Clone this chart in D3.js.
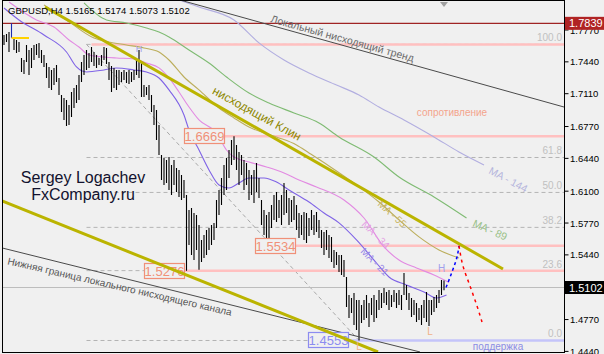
<!DOCTYPE html>
<html>
<head>
<meta charset="utf-8">
<script src="https://cdn.jsdelivr.net/npm/d3@7"></script>
<style>
body { margin: 0; background: #f0f0f0; }
svg { display: block; font-family: "Liberation Sans", Arial, sans-serif; }
</style>
</head>
<body>
<svg width="604" height="354"></svg>
<script>
// GBPUSD H4 bars (high / low), one per bar
var highs = [1.7718,1.7729,1.7749,1.7839,1.7687,1.7667,1.7646,1.7480,1.7459,1.7615,
  1.7563,1.7584,1.7615,1.7625,1.7636,1.7563,1.7511,1.7428,1.7387,1.7356,
  1.7377,1.7408,1.7273,1.7097,1.7066,1.7045,1.6993,1.7128,1.7169,1.7200,
  1.7304,1.7439,1.7511,1.7563,1.7532,1.7594,1.7542,1.7511,1.7480,1.7511,
  1.7594,1.7584,1.7439,1.7397,1.7377,1.7356,1.7356,1.7335,1.7356,1.7335,
  1.7356,1.7335,1.7356,1.7459,1.7563,1.7428,1.7200,1.7179,1.7200,1.7097,
  1.6993,1.6941,1.6786,1.6475,1.6444,1.6423,1.6454,1.6372,1.6423,1.6341,
  1.6320,1.6268,1.6216,1.6061,1.5905,1.5926,1.5874,1.5853,1.5750,1.5595,
  1.5646,1.5698,1.5719,1.5750,1.5771,1.6009,1.6113,1.6237,1.6372,1.6444,
  1.6527,1.6631,1.6669,1.6579,1.6506,1.6475,1.6423,1.6392,1.6320,1.6268,
  1.6320,1.6392,1.6237,1.6009,1.5905,1.5853,1.5885,1.5957,1.6061,1.6092,
  1.6009,1.6061,1.6185,1.6113,1.6030,1.6009,1.6050,1.5957,1.5874,1.5853,
  1.5885,1.5874,1.5822,1.5905,1.5853,1.5885,1.5802,1.5698,1.5678,1.5698,
  1.5646,1.5626,1.5491,1.5470,1.5439,1.5439,1.5387,1.5211,1.5025,1.4994,
  1.5046,1.4973,1.4973,1.4921,1.4973,1.5025,1.4942,1.4994,1.5025,1.4973,
  1.5077,1.5046,1.5097,1.5056,1.5077,1.5025,1.5077,1.5046,1.5077,1.5025,
  1.5253,1.5128,1.5046,1.4994,1.4973,1.4942,1.4890,1.4921,1.4973,1.5056,
  1.4973,1.4973,1.5004,1.5025,1.5077,1.5180,1.5174];
var lows = [1.7615,1.7646,1.7542,1.7687,1.7563,1.7532,1.7542,1.7335,1.7314,1.7439,
  1.7304,1.7377,1.7459,1.7511,1.7480,1.7428,1.7387,1.7273,1.7169,1.7149,
  1.7200,1.7231,1.7097,1.6921,1.6838,1.6776,1.6786,1.6869,1.6962,1.7014,
  1.7045,1.7231,1.7304,1.7356,1.7377,1.7439,1.7397,1.7377,1.7408,1.7397,
  1.7459,1.7418,1.7252,1.7128,1.7169,1.7149,1.7200,1.7231,1.7252,1.7221,
  1.7211,1.7231,1.7252,1.7304,1.7273,1.7076,1.7076,1.7097,1.7045,1.6921,
  1.6786,1.6631,1.6475,1.6216,1.6165,1.6185,1.6113,1.6061,1.6165,1.6092,
  1.6040,1.6009,1.6030,1.5276,1.5543,1.5439,1.5387,1.5491,1.5285,1.5367,
  1.5408,1.5439,1.5491,1.5543,1.5595,1.5719,1.5853,1.5957,1.6061,1.6113,
  1.6237,1.6372,1.6423,1.6320,1.6165,1.6268,1.6113,1.6165,1.6009,1.6061,
  1.5978,1.6092,1.6030,1.5750,1.5646,1.5595,1.5534,1.5719,1.5802,1.5781,
  1.5822,1.5750,1.5853,1.5874,1.5750,1.5781,1.5802,1.5698,1.5615,1.5646,
  1.5595,1.5564,1.5636,1.5698,1.5646,1.5678,1.5615,1.5512,1.5439,1.5491,
  1.5408,1.5367,1.5304,1.5335,1.5263,1.5232,1.5211,1.4901,1.4787,1.4838,
  1.4714,1.4662,1.4553,1.4735,1.4766,1.4787,1.4693,1.4817,1.4745,1.4787,
  1.4869,1.4890,1.4942,1.4921,1.4869,1.4901,1.4952,1.4890,1.4921,1.4869,
  1.5025,1.4973,1.4869,1.4797,1.4817,1.4745,1.4766,1.4714,1.4787,1.4745,
  1.4704,1.4817,1.4849,1.4890,1.4942,1.5025,1.5073];

// moving averages, [bar, price]
var ma21 = [[0,1.7998],[6,1.7874],[16,1.7718],[25,1.7542],[29,1.7387],[33,1.7335],[40,1.7356],[45,1.7377],[52,1.7356],[57,1.7335],[62,1.7273],[66,1.7149],[72,1.6889],[74,1.6734],[78,1.6527],[82,1.6320],[86,1.6165],[90,1.6133],[94,1.6185],[98,1.6237],[104,1.6237],[109,1.6195],[114,1.6113],[122,1.5988],[128,1.5874],[134,1.5771],[141,1.5595],[149,1.5356],[154,1.5211],[161,1.5128],[168,1.5056],[173,1.4994],[177,1.5025]];
var ma34 = [[2,1.8060],[13,1.7874],[20,1.7801],[26,1.7667],[30,1.7594],[34,1.7511],[40,1.7490],[45,1.7480],[52,1.7470],[57,1.7428],[62,1.7377],[66,1.7273],[70,1.7128],[74,1.6972],[78,1.6838],[85,1.6703],[89,1.6527],[92,1.6454],[98,1.6403],[105,1.6351],[112,1.6289],[118,1.6216],[125,1.6144],[136,1.6009],[144,1.5822],[152,1.5522],[158,1.5387],[165,1.5304],[172,1.5232],[178,1.5155]];
var ma55 = [[16,1.8029],[25,1.7874],[36,1.7687],[42,1.7646],[49,1.7615],[56,1.7584],[62,1.7542],[66,1.7459],[72,1.7283],[78,1.7149],[86,1.6962],[92,1.6859],[98,1.6765],[109,1.6662],[117,1.6579],[122,1.6496],[130,1.6361],[141,1.6165],[150,1.5988],[158,1.5802],[166,1.5626],[174,1.5491],[182,1.5408]];
var ma89 = [[32,1.8050],[41,1.7874],[49,1.7843],[57,1.7791],[62,1.7749],[66,1.7698],[74,1.7563],[82,1.7428],[89,1.7283],[98,1.7117],[106,1.7014],[116,1.6910],[126,1.6807],[134,1.6662],[148,1.6454],[158,1.6247],[172,1.6040],[185,1.5822]];
var ma144 = [[70,1.8081],[78,1.8008],[92,1.7874],[102,1.7636],[112,1.7459],[122,1.7325],[133,1.7200],[142,1.7097],[150,1.6972],[160,1.6838],[172,1.6662],[182,1.6506],[192,1.6372]];

// trend lines, [bar, price] end points
var wedgeUpper = [[16.4,1.8008],[199.6,1.5294]];
var wedgeLower = [[-0.8,1.5999],[149.6,1.4434]];
var localTrend = [[70.4,1.8081],[224,1.6972]];
var channelLow = [[-0.8,1.5512],[166.4,1.4434]];

// fibonacci
var fibLevels = [0, 23.6, 38.2, 50.0, 61.8, 100.0];
var fibPrices = [1.4553, 1.7621];
var fibBars = [142, 33];

// marked levels
var resistPrices = [1.6669, 1.5534, 1.5276];
var resistBoxBars = [72, 100.4, 56];
var supportPrice = 1.4553, supportBoxBar = 121.6;
var topLevel = 1.7621, topLevelBar = 35;
var maxPrice = 1.7839, lastPrice = 1.5102;

// forecast paths
var forecastUp = [[176.8,1.5102],[179.2,1.5263],[181.2,1.5418],[182,1.5534]];
var forecastDown = [[182,1.5534],[183.6,1.5325],[186.4,1.5118],[189.2,1.4911],[191.2,1.4745]];

var tickValues = [1.7770,1.7440,1.7110,1.6770,1.6440,1.6100,1.5770,1.5440,1.4770,1.4440];

var svg = d3.select("svg"),
    pLeft = 2.5, pRight = 564.5, pTop = 0.5, pBottom = 352.5;

var x = d3.scaleLinear().domain([0, 176]).range([4, 444]),
    y = d3.scaleLinear().domain([1.4440, 1.7770]).range([351.4, 30]);

svg.append("rect").attr("width", 604).attr("height", 354).attr("fill", "#f0f0f0");

svg.append("clipPath").attr("id", "plot")
  .append("rect").attr("x", pLeft).attr("y", pTop)
  .attr("width", pRight - pLeft).attr("height", pBottom - pTop);

var g = svg.append("g").attr("clip-path", "url(#plot)");

function seg(s) { return [[x(s[0][0]), y(s[0][1])], [x(s[1][0]), y(s[1][1])]]; }
function angle(s) { var p = seg(s); return Math.atan2(p[1][1] - p[0][1], p[1][0] - p[0][0]) * 180 / Math.PI; }
function lineY(s, bar) { var p = seg(s), t = (x(bar) - p[0][0]) / (p[1][0] - p[0][0]); return p[0][1] + t * (p[1][1] - p[0][1]); }

// fibonacci levels
var fibX0 = x(fibBars[1]);
fibLevels.forEach(function(l) {
  var p = fibPrices[0] + (fibPrices[1] - fibPrices[0]) * l / 100;
  g.append("line")
    .attr("x1", fibX0).attr("x2", pRight).attr("y1", y(p)).attr("y2", y(p))
    .style("stroke", "#b4b4b4").style("stroke-dasharray", "4,3");
  svg.append("text")
    .attr("x", 562).attr("y", y(p) - 3)
    .attr("text-anchor", "end")
    .style("font-size", "10px").style("fill", "#c0c0c0")
    .text(l.toFixed(1));
});
g.append("line")
  .attr("x1", x(fibBars[1])).attr("y1", y(fibPrices[1]))
  .attr("x2", x(fibBars[0])).attr("y2", y(fibPrices[0]))
  .style("stroke", "#a8a8a8").style("stroke-dasharray", "4,3");

// current price line
g.append("line")
  .attr("x1", pLeft).attr("x2", pRight).attr("y1", y(lastPrice)).attr("y2", y(lastPrice))
  .style("stroke", "#bdbdbd");

// resistance / support levels
g.append("line")
  .attr("x1", x(topLevelBar)).attr("x2", pRight).attr("y1", y(topLevel)).attr("y2", y(topLevel))
  .style("stroke", "#ffc0c0").style("stroke-width", 2.5);
resistPrices.forEach(function(p, i) {
  var bx = x(resistBoxBars[i]);
  g.append("line")
    .attr("x1", bx + 41).attr("x2", pRight).attr("y1", y(p)).attr("y2", y(p))
    .style("stroke", "#ffc0c0").style("stroke-width", 2.5);
});
g.append("line")
  .attr("x1", x(supportBoxBar) + 41).attr("x2", pRight).attr("y1", y(supportPrice)).attr("y2", y(supportPrice))
  .style("stroke", "#c4c4fa").style("stroke-width", 2.5);

// max price line
g.append("line")
  .attr("x1", pLeft).attr("x2", pRight).attr("y1", y(maxPrice)).attr("y2", y(maxPrice))
  .style("stroke", "#a02424").style("stroke-width", 1.3);

// moving averages
var maLine = d3.line()
  .x(function(d) { return x(d[0]); })
  .y(function(d) { return y(d[1]); })
  .curve(d3.curveMonotoneX);
[[ma144, "#b2aee0"], [ma89, "#7fbb73"], [ma55, "#bcae5c"], [ma34, "#e28ae2"], [ma21, "#7f63e6"]].forEach(function(m) {
  g.append("path").datum(m[0]).attr("d", maLine)
    .style("fill", "none").style("stroke", m[1]).style("stroke-width", 1.1);
});

// bars
g.selectAll(".bar")
  .data(highs)
  .enter().append("line")
    .attr("class", "bar")
    .attr("x1", function(d, i) { return x(i); })
    .attr("x2", function(d, i) { return x(i); })
    .attr("y1", function(d) { return y(d); })
    .attr("y2", function(d, i) { return y(lows[i]); })
    .style("stroke", function(d, i) { return i == 3 ? "#1c2cb0" : "#000"; })
    .style("stroke-width", 1.1);

g.append("line")
  .attr("x1", x(3)).attr("x2", x(10)).attr("y1", y(lows[3])).attr("y2", y(lows[3]))
  .style("stroke", "#ffd200").style("stroke-width", 2);

// trend lines
function drawSeg(s, color, w) {
  var p = seg(s);
  g.append("line")
    .attr("x1", p[0][0]).attr("y1", p[0][1]).attr("x2", p[1][0]).attr("y2", p[1][1])
    .style("stroke", color).style("stroke-width", w);
}
drawSeg(localTrend, "#4a4a4a", 1);
drawSeg(channelLow, "#4a4a4a", 1);

// price boxes
function priceBox(bar, p, color) {
  var bx = x(bar), by = y(p);
  g.append("rect")
    .attr("x", bx + 0.5).attr("y", Math.round(by) - 7.5).attr("width", 40).attr("height", 15)
    .style("fill", "#f0f0f0").style("stroke", color).style("stroke-width", 1.2);
  g.append("text")
    .attr("x", bx + 20.5).attr("y", by + 5)
    .attr("text-anchor", "middle")
    .style("font-size", "13px").style("fill", color)
    .text(p.toFixed(4));
}
resistPrices.forEach(function(p, i) { priceBox(resistBoxBars[i], p, "#f09078"); });
priceBox(supportBoxBar, supportPrice, "#8c8cf0");

drawSeg(wedgeUpper, "#bbb400", 3);
drawSeg(wedgeLower, "#bbb400", 3);

// forecast
var fLine = d3.line()
  .x(function(d) { return x(d[0]); })
  .y(function(d) { return y(d[1]); })
  .curve(d3.curveMonotoneY);
g.append("path").datum(forecastUp).attr("d", fLine)
  .style("fill", "none").style("stroke", "#0000ff").style("stroke-width", 1.5).style("stroke-dasharray", "3,3");
g.append("path").datum(forecastDown).attr("d", fLine)
  .style("fill", "none").style("stroke", "#ff0000").style("stroke-width", 1.5).style("stroke-dasharray", "3,4");

// rotated labels
function rotText(px, py, ang, txt, size, color) {
  g.append("text")
    .attr("transform", "translate(" + px + "," + py + ") rotate(" + ang + ")")
    .style("font-size", size).style("fill", color)
    .text(txt);
}
rotText(x(106.4), lineY(localTrend, 106.4) - 3, angle(localTrend), "Локальный нисходящий тренд", "10.5px", "#6a6a6a");
rotText(x(1.2), lineY(channelLow, 1.2) + 15, angle(channelLow) - 1, "Нижняя граница локального нисходящего канала", "10px", "#555");
rotText(x(83), lineY(wedgeUpper, 83) - 9, angle(wedgeUpper) - 1, "нисходящий Клин", "12px", "#8e8800");

rotText(x(193.6), y(1.6289), 28, "MA - 144", "10.5px", "#b4b4dc");
rotText(x(187.2), y(1.5740), 24, "MA - 89", "10.5px", "#98c088");
rotText(x(149.2), y(1.5957), 42, "MA - 55", "10px", "#c8b460");
rotText(x(142.8), y(1.5750), 45, "MA - 34", "10px", "#e4a0e4");
rotText(x(142.4), y(1.5470), 45, "MA - 21", "10px", "#9888e8");

// H / L marks
g.append("text").attr("x", x(54)).attr("y", y(1.7539)).attr("text-anchor", "middle")
  .style("font-size", "9px").style("fill", "#a0a0ec").text("H");
g.append("text").attr("x", x(175)).attr("y", y(1.5267)).attr("text-anchor", "middle")
  .style("font-size", "10px").style("fill", "#a0a0ec").text("H");
g.append("text").attr("x", x(170.4)).attr("y", y(1.4610)).attr("text-anchor", "middle")
  .style("font-size", "10px").style("fill", "#f0b088").text("L");
g.append("text").attr("x", x(142)).attr("y", y(1.4450)).attr("text-anchor", "middle")
  .style("font-size", "10px").style("fill", "#f0b088").text("L");

g.append("text").attr("x", x(179.2)).attr("y", y(1.6879)).attr("text-anchor", "middle")
  .style("font-size", "10px").style("fill", "#f4a48c").text("сопротивление");
g.append("text").attr("x", x(197.6)).attr("y", y(1.4457)).attr("text-anchor", "middle")
  .style("font-size", "10px").style("fill", "#8c8ce4").text("поддержка");

// author
g.append("text").attr("x", 83).attr("y", 183).attr("text-anchor", "middle")
  .style("font-size", "16px").style("fill", "#12122e").text("Sergey Logachev");
g.append("text").attr("x", 83).attr("y", 200).attr("text-anchor", "middle")
  .style("font-size", "16px").style("fill", "#12122e").text("FxCompany.ru");

// header
g.append("text").attr("x", 8).attr("y", 13.5)
  .style("font-size", "9.5px").style("fill", "#000")
  .text("GBPUSD,H4  1.5165 1.5174 1.5073 1.5102");

// chart shift marker
svg.append("path")
  .attr("d", "M" + (x(176) - 4) + ",2L" + (x(176) + 4) + ",2L" + x(176) + ",7Z")
  .style("fill", "#a0a0a0");

// frame
svg.append("rect")
  .attr("x", pLeft).attr("y", pTop).attr("width", pRight - pLeft).attr("height", pBottom - pTop)
  .style("fill", "none").style("stroke", "#000").style("stroke-width", 1);

// price axis
var axis = svg.append("g");
tickValues.forEach(function(v) {
  axis.append("line").attr("x1", pRight).attr("x2", pRight + 4).attr("y1", y(v)).attr("y2", y(v))
    .style("stroke", "#000");
  axis.append("text").attr("x", 570).attr("y", y(v) + 3.5)
    .style("font-size", "9.5px").style("fill", "#000").text(v.toFixed(4));
});

function priceTag(p, bg) {
  axis.append("rect").attr("x", pRight + 0.5).attr("y", y(p) - 6.5).attr("width", 40).attr("height", 13)
    .style("fill", bg);
  axis.append("text").attr("x", 569).attr("y", y(p) + 4)
    .style("font-size", "11px").style("fill", "#fff").text(p.toFixed(4));
}
priceTag(lastPrice, "#000");
priceTag(maxPrice, "#b02424");
</script>
</body>
</html>
